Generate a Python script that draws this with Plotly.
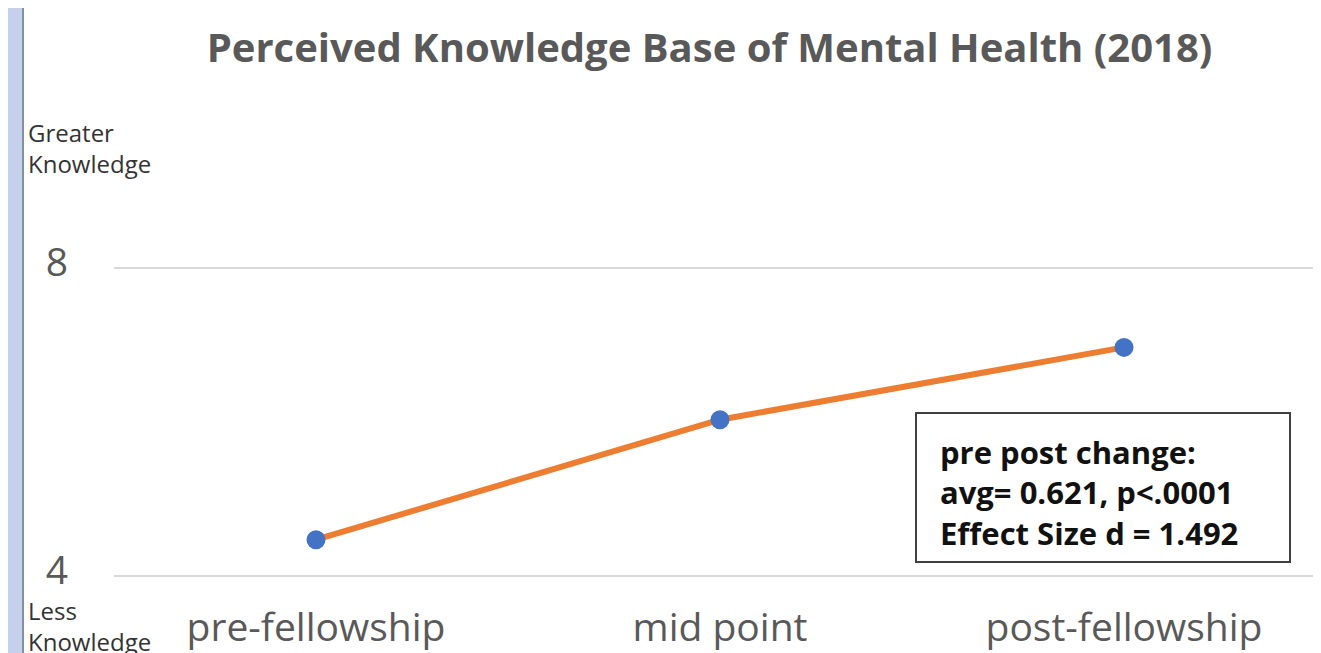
import plotly.graph_objects as go

categories = ["pre-fellowship", "mid point", "post-fellowship"]
values = [4.47, 6.03, 6.97]
y_ticks = [4, 8]
title_text = "Perceived Knowledge Base of Mental Health (2018)"
box_lines = ["pre post change:", "avg= 0.621, p<.0001", "Effect Size d = 1.492"]

W, H = 1321, 653
OFF = 8  # page body margin offset
E = 0.015  # small range padding so edge gridlines are drawn
PX_PER_UNIT = (576 - 268) / 4
PLOT_L, PLOT_R = 114, W + OFF
PLOT_T = round(268 - E * PX_PER_UNIT)
PLOT_B = round(576 + E * PX_PER_UNIT)
ML, MR, MT, MB = PLOT_L - OFF, W - (PLOT_R - OFF), PLOT_T - OFF, H - (PLOT_B - OFF)
PW = PLOT_R - PLOT_L
PH = PLOT_B - PLOT_T

def px_x(p):
    return (p - PLOT_L) / PW

def px_y(p):
    return (PLOT_B - p) / PH

FONT = "Open Sans"

fig = go.Figure()
fig.add_trace(go.Scatter(
    x=categories, y=values, mode="lines+markers",
    line=dict(color="#ED7D31", width=6),
    marker=dict(color="#4472C4", size=19),
    showlegend=False, cliponaxis=False,
))

fig.update_layout(
    width=W, height=H,
    margin=dict(l=ML, r=MR, t=MT, b=MB, pad=0),
    paper_bgcolor="white", plot_bgcolor="white",
    title=dict(text="<b>" + title_text + "</b>", x=((207 + 1212) / 2 - OFF) / W, xanchor="center",
               y=1 - (48 - OFF) / H, yanchor="middle",
               font=dict(family=FONT, size=40, color="#595959")),
    xaxis=dict(range=[-0.5, -0.5 + PW / 404], showgrid=False, showline=False, zeroline=False,
               ticks="", tickfont=dict(family=FONT, size=39, color="#595959"),
               ticklabelstandoff=24),
    yaxis=dict(range=[4 - E, 8 + E], tickvals=y_ticks, ticktext=[str(v) for v in y_ticks],
               showgrid=True, gridcolor="#D9D9D9", gridwidth=1.5, zeroline=False,
               showline=False, ticks="",
               tickfont=dict(family=FONT, size=39, color="#595959"),
               ticklabelstandoff=45, ticklabelshift=-6),
    shapes=[
        dict(type="rect", xref="paper", yref="paper", x0=px_x(-20), x1=px_x(22),
             y0=px_y(H + 20), y1=px_y(-20), fillcolor="#C5D0EA", line=dict(width=0), layer="below"),
        dict(type="line", xref="paper", yref="paper", x0=px_x(23), x1=px_x(23),
             y0=px_y(H + 20), y1=px_y(-20), line=dict(color="#5A6A8A", width=1.5)),
        dict(type="rect", xref="paper", yref="paper", x0=px_x(916), x1=px_x(1290),
             y0=px_y(562), y1=px_y(413), fillcolor="white",
             line=dict(color="#404040", width=2), layer="above"),
    ],
    annotations=[
        dict(text="Greater<br>Knowledge", xref="paper", yref="paper", x=px_x(26), y=px_y(114),
             xanchor="left", yanchor="top", align="left", showarrow=False,
             font=dict(family=FONT, size=24, color="#333333")),
        dict(text="Less<br>Knowledge", xref="paper", yref="paper", x=px_x(26), y=px_y(592),
             xanchor="left", yanchor="top", align="left", showarrow=False,
             font=dict(family=FONT, size=24, color="#333333")),
        dict(text="<br>".join("<b>" + s + "</b>" for s in box_lines), xref="paper", yref="paper",
             x=px_x(938), y=px_y(492), xanchor="left", yanchor="middle", align="left",
             showarrow=False, font=dict(family=FONT, size=31, color="#111111")),
    ],
)

fig.write_html("out.html")
